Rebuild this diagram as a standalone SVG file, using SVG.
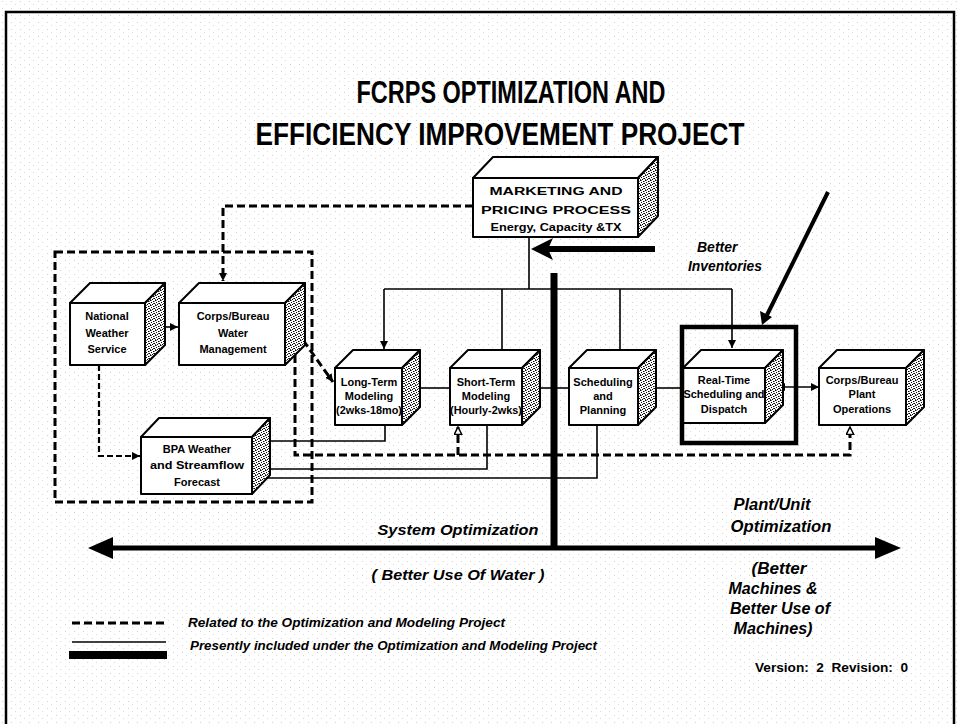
<svg xmlns="http://www.w3.org/2000/svg" width="960" height="724" viewBox="0 0 960 724">
<defs>
<style>
.f{fill:#fff;stroke:#000;stroke-width:2;stroke-linejoin:round}
.s{fill:url(#stip);stroke:#000;stroke-width:2;stroke-linejoin:round}
.bx{font-family:"Liberation Sans",Arial,sans-serif;font-weight:bold;font-size:11px;text-anchor:middle;fill:#000}
.it{font-family:"Liberation Sans",Arial,sans-serif;font-weight:bold;font-style:italic;fill:#000}
.ln{fill:none;stroke:#000;stroke-width:1.6}
.dh{fill:none;stroke:#000;stroke-width:3;stroke-dasharray:8 4}
.dt{fill:none;stroke:#000;stroke-width:2.2;stroke-dasharray:6 3}
</style>
<pattern id="stip" width="5" height="5" patternUnits="userSpaceOnUse">
<rect width="5" height="5" fill="#fff"/>
<rect x="0" y="0" width="1" height="1" fill="#000"/>
<rect x="3" y="1" width="1" height="1" fill="#000"/>
<rect x="1" y="2" width="1" height="1" fill="#000"/>
<rect x="4" y="3" width="1" height="1" fill="#000"/>
<rect x="2" y="4" width="1" height="1" fill="#000"/>
<rect x="3" y="3" width="1" height="1" fill="#444"/>
<rect x="1" y="0" width="1" height="1" fill="#777"/>
<rect x="4" y="1" width="1" height="1" fill="#888"/>
<rect x="0" y="4" width="1" height="1" fill="#555"/>
</pattern>
<pattern id="noise" width="9" height="7" patternUnits="userSpaceOnUse">
<rect x="2" y="1" width="1" height="1" fill="#cfcfcf"/>
<rect x="6" y="4" width="1" height="1" fill="#dadada"/>
</pattern>
<marker id="ah" viewBox="0 0 10 10" refX="10" refY="5" markerWidth="8" markerHeight="8" orient="auto-start-reverse" markerUnits="userSpaceOnUse">
<path d="M0,0 L10,5 L0,10 z" fill="#000"/>
</marker>
<marker id="ho" viewBox="0 0 12 12" refX="11" refY="6" markerWidth="9" markerHeight="9" orient="auto" markerUnits="userSpaceOnUse">
<path d="M1,1 L11,6 L1,11 z" fill="#fff" stroke="#000" stroke-width="2"/>
</marker>
</defs>
<rect width="960" height="724" fill="#fff"/>
<rect width="960" height="724" fill="url(#noise)"/>
<rect x="6" y="12" width="948" height="730" fill="none" stroke="#000" stroke-width="2.5"/>

<g id="title">
<text x="511" y="103" font-family="Liberation Sans, Arial, sans-serif" font-weight="bold" font-size="31" text-anchor="middle" textLength="309" lengthAdjust="spacingAndGlyphs">FCRPS OPTIMIZATION AND</text>
<text x="500" y="145" font-family="Liberation Sans, Arial, sans-serif" font-weight="bold" font-size="31" text-anchor="middle" textLength="489" lengthAdjust="spacingAndGlyphs">EFFICIENCY IMPROVEMENT PROJECT</text>
</g>

<g id="region-related">
<rect x="55" y="252" width="257" height="250" class="dh"/>
</g>

<g id="connectors">
<path class="dh" d="M473,206 H223 V281" marker-end="url(#ah)"/>
<path class="ln" d="M166,327 H178" marker-end="url(#ah)"/>
<path class="dt" d="M99,365 V456 H140" marker-end="url(#ah)"/>
<path class="dh" d="M303,340 L333,382" marker-end="url(#ah)"/>
<path class="dh" d="M295,355 V455 H850 V427" marker-end="url(#ho)"/>
<path class="dh" d="M458,455 V427" marker-end="url(#ho)"/>
<path class="ln" d="M269,441 H385 V425"/>
<path class="ln" d="M266,469 H487 V425"/>
<path class="ln" d="M263,478 H597 V425"/>
<path class="ln" d="M529,237 V289"/>
<path class="ln" d="M384,289 H732"/>
<path class="ln" d="M384,289 V349" marker-end="url(#ah)"/>
<path class="ln" d="M502,289 V350"/>
<path class="ln" d="M620,289 V350"/>
<path class="ln" d="M732,289 V348" marker-end="url(#ah)"/>
<path class="ln" d="M420,388 H450"/>
<path class="ln" d="M540,388 H569"/>
<path class="ln" d="M656,388 H683"/>
<path class="ln" stroke-width="2" d="M777,387 H819" marker-start="url(#ah)" marker-end="url(#ah)"/>
<path fill="none" stroke="#000" stroke-width="6" d="M655,249 H546"/>
<polygon points="531,249 553,238 548,249 553,260" fill="#000"/>
<path fill="none" stroke="#000" stroke-width="4" d="M828,192 L767,315"/>
<polygon points="762,325 760,311 772,317" fill="#000"/>
<path fill="none" stroke="#000" stroke-width="7" d="M554,273 V548"/>
<path fill="none" stroke="#000" stroke-width="5" d="M108,548 H880"/>
<polygon points="88,548 113,537 113,559" fill="#000"/>
<polygon points="901,548 875,537 875,559" fill="#000"/>
</g>

<g id="marketing">
<polygon class="f" points="473,178 493,157 658,157 638,178"/>
<polygon class="s" points="638,178 658,157 658,216 638,237"/>
<rect class="f" x="473" y="178" width="165" height="59"/>
<text class="bx" x="556" y="195" font-size="15" textLength="133" lengthAdjust="spacingAndGlyphs">MARKETING AND</text>
<text class="bx" x="556" y="214" font-size="15" textLength="150" lengthAdjust="spacingAndGlyphs">PRICING PROCESS</text>
<text class="bx" x="556" y="231" font-size="12.5" textLength="131" lengthAdjust="spacingAndGlyphs">Energy, Capacity &amp;TX</text>
</g>

<g id="nws">
<polygon class="f" points="70,303 90,283 165,283 145,303"/>
<polygon class="s" points="145,303 165,283 165,345 145,365"/>
<rect class="f" x="70" y="303" width="75" height="62"/>
<text class="bx" x="107" y="320" font-size="12.5">National</text>
<text class="bx" x="107" y="337" font-size="12.5">Weather</text>
<text class="bx" x="107" y="353" font-size="12.5">Service</text>
</g>

<g id="corps-water">
<polygon class="f" points="179,303 199,283 305,283 285,303"/>
<polygon class="s" points="285,303 305,283 305,345 285,365"/>
<rect class="f" x="179" y="303" width="106" height="62"/>
<text class="bx" x="233" y="320" font-size="12.5">Corps/Bureau</text>
<text class="bx" x="233" y="337" font-size="12.5">Water</text>
<text class="bx" x="233" y="353" font-size="12.5">Management</text>
</g>

<g id="bpa">
<polygon class="f" points="141,437 159,418 270,418 252,437"/>
<polygon class="s" points="252,437 270,418 270,475 252,494"/>
<rect class="f" x="141" y="437" width="111" height="57"/>
<text class="bx" x="197" y="453" font-size="13.5">BPA Weather</text>
<text class="bx" x="197" y="469" font-size="13.5" textLength="94" lengthAdjust="spacingAndGlyphs">and Streamflow</text>
<text class="bx" x="197" y="486" font-size="13.5">Forecast</text>
</g>

<g id="long-term">
<polygon class="f" points="335,368 353,350 420,350 402,368"/>
<polygon class="s" points="402,368 420,350 420,407 402,425"/>
<rect class="f" x="335" y="368" width="67" height="57"/>
<text class="bx" x="369" y="386">Long-Term</text>
<text class="bx" x="369" y="400">Modeling</text>
<text class="bx" x="369" y="414" textLength="66" lengthAdjust="spacingAndGlyphs">(2wks-18mo)</text>
</g>

<g id="short-term">
<polygon class="f" points="450,368 468,350 540,350 522,368"/>
<polygon class="s" points="522,368 540,350 540,407 522,425"/>
<rect class="f" x="450" y="368" width="72" height="57"/>
<text class="bx" x="486" y="386">Short-Term</text>
<text class="bx" x="486" y="400">Modeling</text>
<text class="bx" x="486" y="414" textLength="72" lengthAdjust="spacingAndGlyphs">(Hourly-2wks)</text>
</g>

<g id="scheduling">
<polygon class="f" points="569,368 587,350 656,350 638,368"/>
<polygon class="s" points="638,368 656,350 656,407 638,425"/>
<rect class="f" x="569" y="368" width="69" height="57"/>
<text class="bx" x="603" y="386">Scheduling</text>
<text class="bx" x="603" y="400">and</text>
<text class="bx" x="603" y="414">Planning</text>
</g>

<g id="real-time">
<polygon class="f" points="683,368 701,350 783,350 765,368"/>
<polygon class="s" points="765,368 783,350 783,405 765,423"/>
<rect class="f" x="683" y="368" width="82" height="55"/>
<text class="bx" x="724" y="384">Real-Time</text>
<text class="bx" x="724" y="398" textLength="81" lengthAdjust="spacingAndGlyphs">Scheduling and</text>
<text class="bx" x="724" y="413">Dispatch</text>
<rect x="682" y="327" width="114" height="116" fill="none" stroke="#000" stroke-width="4.5"/>
</g>

<g id="corps-plant">
<polygon class="f" points="819,368 837,350 924,350 906,368"/>
<polygon class="s" points="906,368 924,350 924,407 906,425"/>
<rect class="f" x="819" y="368" width="87" height="57"/>
<text class="bx" x="862" y="384" font-size="11.5">Corps/Bureau</text>
<text class="bx" x="862" y="398" font-size="11.5">Plant</text>
<text class="bx" x="862" y="413" font-size="11.5">Operations</text>
</g>

<g id="labels">
<text class="it" x="697" y="252" font-size="14">Better</text>
<text class="it" x="688" y="271" font-size="14" textLength="74" lengthAdjust="spacingAndGlyphs">Inventories</text>
<text class="it" x="458" y="535" font-size="15" text-anchor="middle" textLength="161" lengthAdjust="spacingAndGlyphs">System Optimization</text>
<text class="it" x="458" y="580" font-size="15" text-anchor="middle" textLength="173" lengthAdjust="spacingAndGlyphs">( Better Use Of Water )</text>
<text class="it" x="772" y="510" font-size="16" text-anchor="middle" textLength="77" lengthAdjust="spacingAndGlyphs">Plant/Unit</text>
<text class="it" x="781" y="532" font-size="16" text-anchor="middle" textLength="101" lengthAdjust="spacingAndGlyphs">Optimization</text>
<text class="it" x="779" y="574" font-size="16" text-anchor="middle" textLength="55" lengthAdjust="spacingAndGlyphs">(Better</text>
<text class="it" x="773" y="594" font-size="16" text-anchor="middle" textLength="89" lengthAdjust="spacingAndGlyphs">Machines &amp;</text>
<text class="it" x="780" y="614" font-size="16" text-anchor="middle" textLength="100" lengthAdjust="spacingAndGlyphs">Better Use of</text>
<text class="it" x="773" y="634" font-size="16" text-anchor="middle" textLength="79" lengthAdjust="spacingAndGlyphs">Machines)</text>
<text x="908" y="672" font-family="Liberation Sans, Arial, sans-serif" font-weight="bold" font-size="12" text-anchor="end" textLength="153" lengthAdjust="spacingAndGlyphs" xml:space="preserve">Version:  2  Revision:  0</text>
</g>

<g id="legend">
<path class="dh" d="M72,623 H168"/>
<path fill="none" stroke="#000" stroke-width="1.6" d="M72,642 H166"/>
<path fill="none" stroke="#000" stroke-width="8" d="M69,655 H167"/>
<text class="it" x="188" y="627" font-size="12" textLength="317" lengthAdjust="spacingAndGlyphs">Related to the Optimization and Modeling Project</text>
<text class="it" x="190" y="650" font-size="12" textLength="407" lengthAdjust="spacingAndGlyphs">Presently included under the Optimization and Modeling Project</text>
</g>
</svg>
